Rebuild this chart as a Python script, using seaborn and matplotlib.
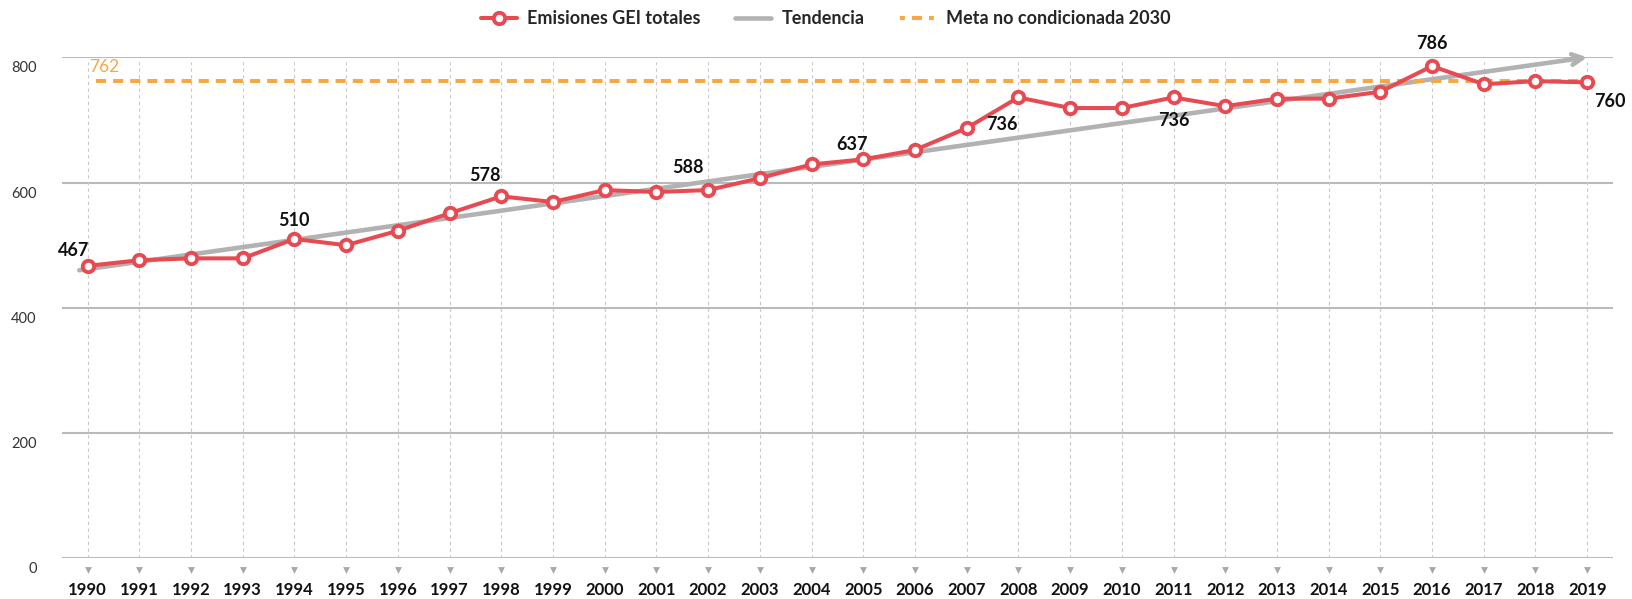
import numpy as np
import pandas as pd
import matplotlib
matplotlib.use("Agg")
import matplotlib.pyplot as plt
import matplotlib.transforms as mtransforms
from matplotlib.lines import Line2D
import seaborn as sns

years = list(range(1990, 2020))
emisiones = [467, 476, 479, 479, 510, 500, 523, 551, 578, 569,
             588, 585, 588, 607, 629, 637, 652, 687, 736, 719,
             719, 736, 722, 734, 734, 745, 786, 757, 762, 760]
tendencia = [460, 800]          # trend arrow: value at start and at 2019
meta_2030 = 762
y_ticks = [0, 200, 400, 600, 800]

# labelled points: year -> (dx px, dy px)
etiquetas = {1990: (-14, 15), 1994: (0, 18), 1998: (-16, 21), 2002: (-20, 23),
             2005: (-11, 15), 2008: (-16, -27), 2011: (0, -23), 2016: (0, 23),
             2019: (23, -19)}

ROJO = "#e84a52"
NARANJA = "#f8a842"
GRIS = "#b2b2b2"

sns.set_style("white")
plt.rcParams["font.family"] = ["Lato", "DejaVu Sans"]

df = pd.DataFrame({"anio": years, "emisiones": emisiones})

fig = plt.figure(figsize=(16.32, 5.99), dpi=100)
ax = fig.add_axes([0.0378, 0.0679, 0.9506, 0.8364])

# grid
for y in y_ticks:
    ax.axhline(y, color="#bababa", lw=1.5, zorder=0)
for yr in years:
    ax.plot([yr, yr], [0, 792], color="#c8c8c8", lw=0.8, ls=(0, (3, 3)), zorder=0)

# trend arrow
ax.annotate("", xy=(years[-1], tendencia[1]), xytext=(years[0] - 0.16, tendencia[0]),
            arrowprops=dict(arrowstyle="->,head_length=0.75,head_width=0.38",
                            color=GRIS, lw=3.3, shrinkA=0, shrinkB=0),
            zorder=1, annotation_clip=False)

# target
ax.plot([years[0] + 0.16, years[-1]], [meta_2030, meta_2030], color=NARANJA, lw=2.9,
        ls=(0, (2.5, 1.75)), zorder=2)
ax.annotate(str(meta_2030), (years[0], meta_2030), xytext=(2, 14), textcoords="offset pixels",
            color=NARANJA, fontsize=12.5, ha="left", va="center")

sns.lineplot(data=df, x="anio", y="emisiones", ax=ax, color=ROJO, lw=2.9,
             marker="o", markersize=8.2, markerfacecolor="white",
             markeredgecolor=ROJO, markeredgewidth=2.8, zorder=3, clip_on=False)

for yr, (dx, dy) in etiquetas.items():
    v = emisiones[years.index(yr)]
    ax.annotate(str(v), (yr, v), xytext=(dx, dy), textcoords="offset pixels",
                ha="center", va="center", fontsize=13, fontweight="bold", color="#111111")

ax.set_xlim(1989.5, 2019.5)
ax.set_ylim(0, 800)
ax.set_xlabel("")
ax.set_ylabel("")
for s in ax.spines.values():
    s.set_visible(False)

# y tick labels (sitting just below gridlines)
ax.set_yticks(y_ticks)
ax.set_yticklabels([str(t) for t in y_ticks], fontsize=10.5, color="#333333")
ax.tick_params(axis="y", length=0, pad=18)
off = mtransforms.ScaledTranslation(0, -9.5 / 100, fig.dpi_scale_trans)
for lab in ax.get_yticklabels():
    lab.set_transform(lab.get_transform() + off)

# x tick labels with small triangles
ax.set_xticks(years)
ax.set_xticklabels([str(y) for y in years], fontsize=12, fontweight="bold", color="#111111")
ax.tick_params(axis="x", length=0, pad=17)
trans = mtransforms.blended_transform_factory(ax.transData, ax.transAxes)
ax.scatter(years, [-0.024] * len(years), marker="v", s=24, color="#a8a8a8",
           transform=trans, clip_on=False, linewidths=0)

handles = [
    Line2D([0], [0], color=ROJO, lw=2.9, marker="o", markersize=8.2,
           markerfacecolor="white", markeredgecolor=ROJO, markeredgewidth=2.8),
    Line2D([0], [0], color=GRIS, lw=3.3),
    Line2D([0], [0], color=NARANJA, lw=2.9, ls=(0, (1.2, 1.75, 2.5, 1.75))),
]
fig.legend(handles, ["Emisiones GEI totales", "Tendencia", "Meta no condicionada 2030"],
           loc="center", bbox_to_anchor=(0.506, 0.969), ncol=3, frameon=False,
           prop={"weight": "bold", "size": 13}, handlelength=2.0, columnspacing=1.9,
           handletextpad=0.6)

fig.savefig("out.png", dpi=100)
plt.close(fig)
